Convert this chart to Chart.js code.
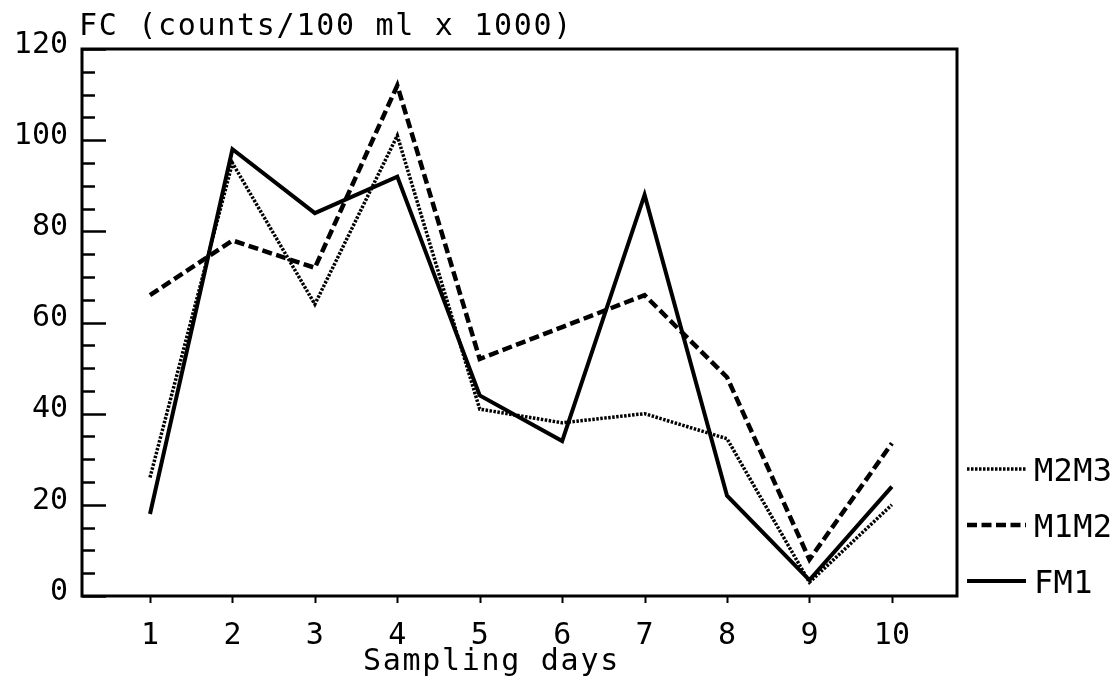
<!DOCTYPE html>
<html>
<head>
<meta charset="utf-8">
<title>FC counts</title>
<script src="https://cdn.jsdelivr.net/npm/chart.js@4.4.1/dist/chart.umd.min.js"></script>
<style>
  html, body { margin: 0; padding: 0; background: #fff; }
  canvas { display: block; }
</style>
</head>
<body>
<canvas id="graphique" width="1120" height="699"></canvas>
<script>
// valeurs
var jours = [1, 2, 3, 4, 5, 6, 7, 8, 9, 10];
var fm1 = [18, 98, 84, 92, 44, 34, 88, 22, 3.5, 24];
var m1m2 = [66, 78, 72, 112, 52, 59, 66, 48, 8, 33.5];
var m2m3 = [26, 95, 64, 101, 41, 38, 40, 34.5, 3, 20];
var graduationsY = [0, 20, 40, 60, 80, 100, 120];
var titreY = "FC (counts/100 ml x 1000)";
var titreX = "Sampling days";

var police = '"DejaVu Sans Mono", "Liberation Mono", monospace';

function points(valeurs) {
    return jours.map(function(j, i) { return { x: j, y: valeurs[i] }; });
}

var series = [
    { label: "M2M3", data: points(m2m3), width: 3.5, dash: [2.5, 1.5] },
    { label: "M1M2", data: points(m1m2), width: 4.5, dash: [10, 4.5] },
    { label: "FM1", data: points(fm1), width: 4, dash: [] }
];

var decor = {
    id: 'decor',
    afterDraw: function(chart) {
        var ctx = chart.ctx;
        var zone = chart.chartArea;
        var sx = chart.scales.x;
        var sy = chart.scales.y;
        ctx.save();
        ctx.strokeStyle = '#000';
        ctx.fillStyle = '#000';

        // cadre
        ctx.lineWidth = 3;
        ctx.strokeRect(zone.left, zone.top, zone.right - zone.left, zone.bottom - zone.top);

        // graduations Y vers l'interieur, secondaires tous les 5
        ctx.lineWidth = 2.5;
        for (var v = 0; v <= 120; v += 5) {
            var py = Math.round(sy.getPixelForValue(v)) + 0.5;
            var longueur = (v % 20 == 0) ? 24 : 13;
            ctx.beginPath();
            ctx.moveTo(zone.left, py);
            ctx.lineTo(zone.left + longueur, py);
            ctx.stroke();
        }

        // graduations X vers l'exterieur
        ctx.lineWidth = 2;
        for (var i = 0; i < jours.length; i++) {
            var px = Math.round(sx.getPixelForValue(jours[i])) + 0.5;
            ctx.beginPath();
            ctx.moveTo(px, zone.bottom);
            ctx.lineTo(px, zone.bottom + 7);
            ctx.stroke();
        }

        // titres
        ctx.font = '30px ' + police;
        ctx.textAlign = 'left';
        ctx.textBaseline = 'alphabetic';
        ctx.letterSpacing = '1.7px';
        ctx.fillText(titreY, 79, 35);
        ctx.fillText(titreX, 363, 670);

        // legende
        var lignesY = [469, 525, 581];
        ctx.font = '32px ' + police;
        ctx.letterSpacing = '0.3px';
        for (var k = 0; k < series.length; k++) {
            var s = series[k];
            ctx.lineWidth = s.width;
            ctx.setLineDash(s.dash);
            ctx.beginPath();
            ctx.moveTo(967, lignesY[k]);
            ctx.lineTo(1026, lignesY[k]);
            ctx.stroke();
            ctx.setLineDash([]);
            ctx.fillText(s.label, 1034, lignesY[k] + 12);
        }
        ctx.restore();
    }
};

Chart.defaults.font.family = police;
Chart.defaults.font.size = 30;
Chart.defaults.color = '#000';

var ctx = document.getElementById('graphique').getContext('2d');
var chart = new Chart(ctx, {
    type: 'line',
    data: {
        datasets: series.map(function(s) {
            return {
                label: s.label,
                data: s.data,
                borderColor: '#000',
                borderWidth: s.width,
                borderDash: s.dash,
                pointRadius: 0,
                fill: false,
                tension: 0
            };
        })
    },
    options: {
        responsive: false,
        animation: false,
        devicePixelRatio: 1,
        layout: { padding: { left: 0, top: 49, right: 163, bottom: 0 } },
        plugins: {
            legend: { display: false },
            tooltip: { enabled: false }
        },
        scales: {
            x: {
                type: 'linear',
                min: 0.175,
                max: 10.79,
                grid: { display: false, drawTicks: false },
                border: { display: false },
                ticks: { padding: 22, maxRotation: 0 },
                afterBuildTicks: function(scale) {
                    scale.ticks = jours.map(function(j) { return { value: j }; });
                },
                afterFit: function(scale) { scale.height = 699 - 596; }
            },
            y: {
                type: 'linear',
                min: 0,
                max: 120,
                grid: { display: false, drawTicks: false },
                border: { display: false },
                ticks: { padding: 14, labelOffset: -4 },
                afterBuildTicks: function(scale) {
                    scale.ticks = graduationsY.map(function(v) { return { value: v }; });
                },
                afterFit: function(scale) { scale.width = 82; }
            }
        }
    },
    plugins: [decor]
});
</script>
</body>
</html>
